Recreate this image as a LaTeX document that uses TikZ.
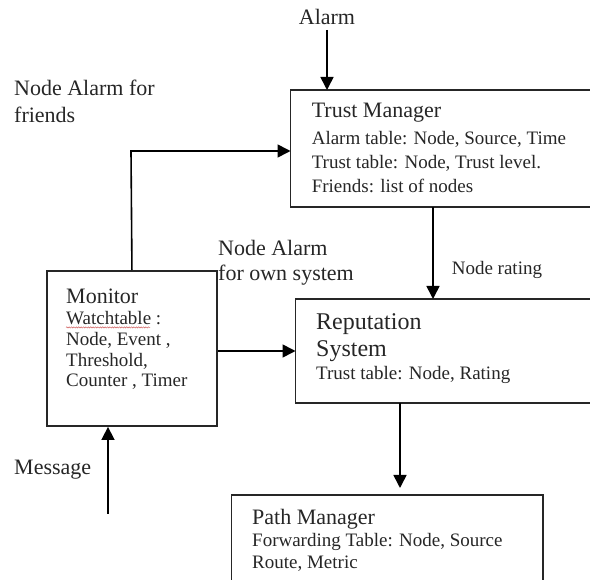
\documentclass[tikz,border=0pt]{standalone}
\usepackage{fontspec}
\setmainfont{Liberation Serif}
\usetikzlibrary{arrows.meta,decorations.pathmorphing}
\definecolor{ink}{HTML}{262626}
\definecolor{spell}{HTML}{D06060}
\begin{document}
\begin{tikzpicture}[x=1pt,y=-1pt,
  box/.style={draw=ink, line width=1.9pt, inner sep=0pt, anchor=north west},
  openbox/.style={inner sep=0pt, anchor=north west},
  edge/.style={draw=ink, line width=1.9pt, line join=miter},
  head/.style={text=ink, anchor=west, inner sep=0pt, font=\fontsize{22}{26}\selectfont},
  bighead/.style={text=ink, anchor=west, inner sep=0pt, font=\fontsize{24}{28}\selectfont},
  sub/.style={text=ink, anchor=west, inner sep=0pt, font=\fontsize{19}{23}\selectfont},
  conn/.style={draw=black, line width=1.6pt, -{Triangle[length=13pt,width=13pt]}}]
\useasboundingbox (0,0) rectangle (590,580);

% blocks; the two upper-right blocks run off the right margin, the lower one off the bottom
\node[openbox, minimum width=310pt, minimum height=117pt] (tm)  at (290.5,90) {};
\node[openbox, minimum width=305pt, minimum height=104pt] (rep) at (295.5,299) {};
\node[box, minimum width=170pt, minimum height=155pt] (mon) at (46,270) {};
\node[openbox, minimum width=311.5pt, minimum height=95pt] (path) at (231.5,495) {};
\draw[edge] (tm.north east) -- (tm.north west) -- (tm.south west) -- (tm.south east);
\draw[edge] (rep.north east) -- (rep.north west) -- (rep.south west) -- (rep.south east);
\draw[edge] (path.south west) -- (path.north west) -- (path.north east) -- (path.south east);

% Trust Manager
\node[head] (tmT)  at (311.6,113) {Trust Manager};
\node[sub]  (tmA)  at (311.6,139) {Alarm table: Node, Source, Time};
\node[sub]  (tmB)  at (311.6,163) {Trust table: Node, Trust level.};
\node[sub]  (tmC)  at (311.6,186) {Friends: list of nodes};

% Reputation System
\node[bighead] (repA) at (316,324) {Reputation};
\node[bighead] (repB) at (316,351) {System};
\node[sub]     (repC) at (316,375) {Trust table: Node, Rating};

% Monitor
\node[head] (monT) at (66,296) {Monitor};
\node[sub]  (monA) at (66,318) {Watchtable :};
\node[sub]  (monB) at (66,340) {Node, Event ,};
\node[sub]  (monC) at (66,361) {Threshold,};
\node[sub]  (monD) at (66,382) {Counter , Timer};
\draw[spell, line width=0.5pt, decoration={snake, amplitude=0.6pt, segment length=2.4pt}, decorate]
  (monA.south west) ++(0,2.5) -- ++(84,0);

% Path Manager
\node[head] (pmT) at (252,519) {Path Manager};
\node[sub]  (pmA) at (252,542) {Forwarding Table: Node, Source};
\node[sub]  (pmB) at (252,564) {Route, Metric};

% free labels
\node[head, anchor=center] (alarm) at (327,17) {Alarm};
\node[head] (naf1) at (14,88)  {Node Alarm for};
\node[head] (naf2) at (14,115) {friends};
\node[head] (nao1) at (218,248) {Node Alarm};
\node[head] (nao2) at (218,275) {for own system};
\node[sub]  (nr)   at (451.6,270) {Node rating};
\node[head] (msg)  at (14,470) {Message};

% connectors
\coordinate (alarmfoot) at (327,30);
\draw[conn] (alarmfoot) -- (alarmfoot |- tm.north);

\coordinate (bend) at (131,151);
\draw[conn] (mon.north) -- (bend) -- (bend -| tm.west);

\coordinate (trx) at (433,0);
\draw[conn] (tm.south -| trx) -- (rep.north -| trx);

\coordinate (mry) at (0,351);
\draw[conn] (mon.east |- mry) -- (rep.west |- mry);

\coordinate (rpx) at (400,0);
\coordinate (rpend) at (400,488);
\draw[conn] (rep.south -| rpx) -- (rpend);

\coordinate (msgfoot) at (108,514);
\draw[conn] (msgfoot) -- (msgfoot |- mon.south);
\end{tikzpicture}
\end{document}
